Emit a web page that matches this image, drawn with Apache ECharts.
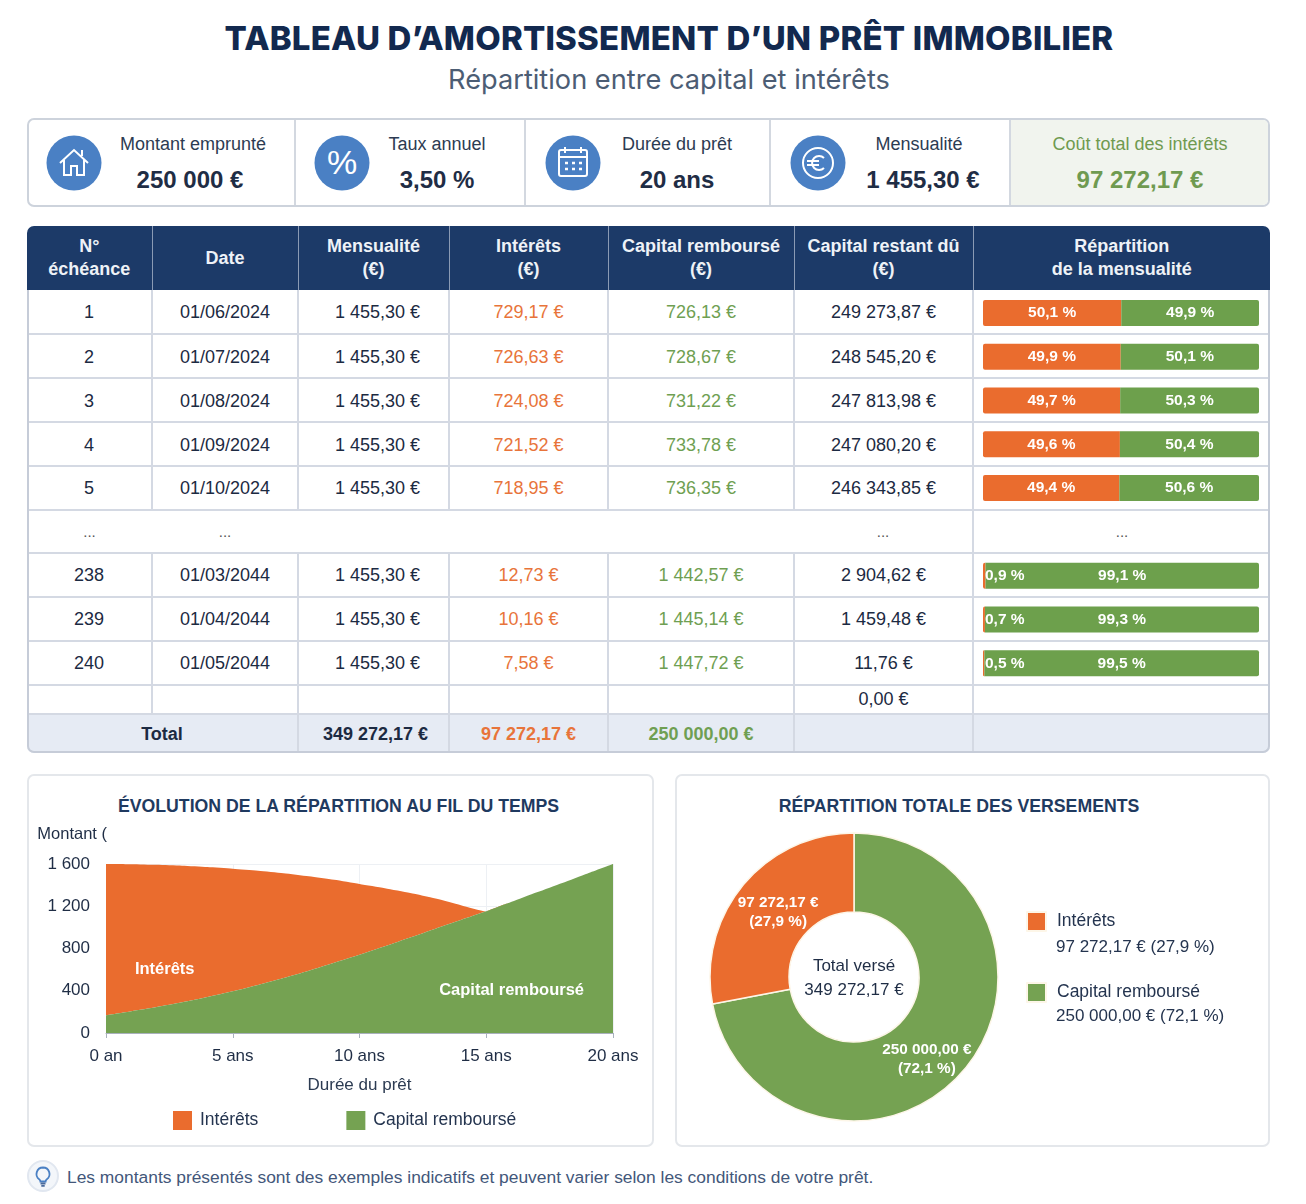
<!DOCTYPE html>
<html lang="fr">
<head>
<meta charset="utf-8">
<title>Tableau d'amortissement</title>
<script src="https://cdn.jsdelivr.net/npm/echarts@6/dist/echarts.min.js"></script>
<style>
html, body { margin: 0; padding: 0; background: #fff; }
body { position: relative; width: 1306px; height: 1204px; overflow: hidden; font-family: "Liberation Sans", Arial, sans-serif; color: #1c2a42; }
.abs { position: absolute; }
#title { left: 0; width: 1338px; top: 15px; text-align: center; font-family: Inter, sans-serif; font-weight: 800; font-size: 33px; line-height: 46px; color: #12294f; letter-spacing: 0.2px; white-space: nowrap; }
#subtitle { left: 0; width: 1338px; top: 61px; text-align: center; font-family: Inter, sans-serif; font-weight: 400; font-size: 27.2px; line-height: 38px; color: #4c5d74; }
#kpis { left: 27px; top: 118px; width: 1239px; height: 85px; border: 2px solid #cdd3dc; border-radius: 7px; overflow: hidden; }
.kpi { position: absolute; top: 0; height: 85px; border-right: 2px solid #d3d8e0; box-sizing: border-box; }
.kpi:last-child { border-right: 0; background: #f1f4ee; }
.kpi .lab { position: absolute; top: 13px; font-size: 18px; line-height: 22px; text-align: center; white-space: nowrap; color: #2c3b52; transform: translateX(-50%); }
.kpi .val { position: absolute; top: 45px; font-size: 24px; line-height: 30px; font-weight: bold; text-align: center; white-space: nowrap; color: #1f2d45; transform: translateX(-50%); }
.kpi:last-child .lab, .kpi:last-child .val { color: #6f9a50; }
.kpi svg { position: absolute; top: 15px; }
#tablewrap { left: 27px; top: 226px; width: 1243px; height: 527px; border-radius: 7px; overflow: hidden; }
#tableborder { left: 27px; top: 290px; width: 1239px; height: 461px; border: 2px solid #c6ccd8; border-top: 0; border-radius: 0 0 7px 7px; }
table { border-collapse: collapse; table-layout: fixed; width: 1243px; }
th { background: #1c3a68; color: #eef2f7; font-size: 18px; line-height: 23px; font-weight: bold; border-right: 1.5px solid #8a9ab4; padding: 0; }
td { font-size: 18px; text-align: center; padding: 0; border-right: 2px solid #d4d9e3; border-bottom: 2px solid #d4d9e3; color: #1c2a42; }
th:last-child, td:last-child { border-right: 0; }
td.int { color: #e8743a; }
td.cap { color: #6f9f52; }
td.men { padding-left: 8px; }
tr.up td { padding-top: 2px; }
tr.gap td { border-right: 0; color: #555; font-size: 15px; }
tr.gap td.keep { border-right: 2px solid #d4d9e3; }
tr.total td { background: #e6ebf4; font-weight: bold; border-bottom: 0; }
.card { box-sizing: border-box; top: 774px; height: 373px; border: 2px solid #e4e7eb; border-radius: 7px; }
.cardtitle { text-align: center; top: 794px; font-size: 17.7px; line-height: 24px; font-weight: bold; color: #1f3a60; }
#foot { left: 67px; top: 1165px; font-size: 17.4px; line-height: 24px; color: #43577a; white-space: nowrap; }
#chart { left: 0; top: 0; width: 1306px; height: 1204px; }
</style>
</head>
<body>
<div class="abs" id="title">TABLEAU D’AMORTISSEMENT D’UN PRÊT IMMOBILIER</div>
<div class="abs" id="subtitle">Répartition entre capital et intérêts</div>
<div class="abs" id="kpis"></div>
<div class="abs" id="tablewrap"><table id="tbl"></table></div>
<div class="abs" id="tableborder"></div>
<div class="abs card" style="left:27px;width:627px"></div>
<div class="abs card" style="left:675px;width:595px"></div>
<div class="abs cardtitle" style="left:27px;width:623px">ÉVOLUTION DE LA RÉPARTITION AU FIL DU TEMPS</div>
<div class="abs cardtitle" style="left:675px;width:568px">RÉPARTITION TOTALE DES VERSEMENTS</div>
<svg class="abs" style="left:27px;top:1160px" width="32" height="32" viewBox="0 0 32 32">
  <circle cx="16" cy="16" r="15" fill="#f3f6fa" stroke="#e1e7f0" stroke-width="2"/>
  <path d="M16 7.5a6.5 6.5 0 0 0-3.6 11.9c.7.5 1 1.2 1 2.1h5.2c0-.9.3-1.6 1-2.1A6.5 6.5 0 0 0 16 7.5z" fill="none" stroke="#4a80c4" stroke-width="1.8"/>
  <path d="M13.5 23.5h5M14.3 25.8h3.4" stroke="#4a6a9c" stroke-width="1.8"/>
</svg>
<div class="abs" id="foot">Les montants présentés sont des exemples indicatifs et peuvent varier selon les conditions de votre prêt.</div>
<div class="abs" id="chart"></div>
<script>
// indicateurs du haut
var kpiLabels = ['Montant emprunté', 'Taux annuel', 'Durée du prêt', 'Mensualité', 'Coût total des intérêts'];
var kpiValues = ['250 000 €', '3,50 %', '20 ans', '1 455,30 €', '97 272,17 €'];

// tableau
var headers = ['N°<br>échéance', 'Date', 'Mensualité<br>(€)', 'Intérêts<br>(€)', 'Capital remboursé<br>(€)', 'Capital restant dû<br>(€)', 'Répartition<br>de la mensualité'];
var echeances = ['1', '2', '3', '4', '5', '...', '238', '239', '240'];
var dates = ['01/06/2024', '01/07/2024', '01/08/2024', '01/09/2024', '01/10/2024', '...', '01/03/2044', '01/04/2044', '01/05/2044'];
var mensualites = ['1 455,30 €', '1 455,30 €', '1 455,30 €', '1 455,30 €', '1 455,30 €', '', '1 455,30 €', '1 455,30 €', '1 455,30 €'];
var interets = ['729,17 €', '726,63 €', '724,08 €', '721,52 €', '718,95 €', '', '12,73 €', '10,16 €', '7,58 €'];
var capitaux = ['726,13 €', '728,67 €', '731,22 €', '733,78 €', '736,35 €', '', '1 442,57 €', '1 445,14 €', '1 447,72 €'];
var restants = ['249 273,87 €', '248 545,20 €', '247 813,98 €', '247 080,20 €', '246 343,85 €', '...', '2 904,62 €', '1 459,48 €', '11,76 €'];
var partInterets = [50.1, 49.9, 49.7, 49.6, 49.4, null, 0.9, 0.7, 0.5];
var partCapital = [49.9, 50.1, 50.3, 50.4, 50.6, null, 99.1, 99.3, 99.5];

// courbes : montant par année
var anneeLabels = ['0 an', '1 an', '2 ans', '3 ans', '4 ans', '5 ans', '6 ans', '7 ans', '8 ans', '9 ans', '10 ans', '11 ans', '12 ans', '13 ans', '14 ans', '15 ans', '16 ans', '17 ans', '18 ans', '19 ans', '20 ans'];
var courbeCapital = [167, 205, 245, 290, 340, 395, 455, 520, 590, 665, 741, 822, 905, 988, 1070, 1152, 1242, 1332, 1421, 1511, 1600];
var courbeInterets = [1433, 1393, 1347, 1294, 1232, 1161, 1082, 993, 894, 785, 669, 548, 420, 285, 140, 0, 0, 0, 0, 0, 0];

// donut
var totalInterets = 97272.17;
var totalCapital = 250000.00;
var legendeMontants = ['97 272,17 € (27,9 %)', '250 000,00 € (72,1 %)'];

var ORANGE = '#ea6c2e';
var VERT = '#75a252';

function pct(v) {
    return v.toFixed(1).replace('.', ',') + ' %';
}

function buildKpis() {
    var lefts = [0, 265, 497, 742, 982];
    var widths = [267, 232, 245, 240, 257];
    var labCenter = [164, 143, 151, 148, 129];
    var valCenter = [161, 143, 151, 152, 129];
    var icons = [
        '<path d="M14 28L28 15l14 13M18 25v15h7v-9h6v9h7V25M36 15v6" fill="none" stroke="#fff" stroke-width="2"/>',
        '<text x="28" y="39" text-anchor="middle" font-family="Liberation Sans" font-size="34" fill="#fff">%</text>',
        '<rect x="14" y="15" width="28" height="26" rx="2" fill="none" stroke="#fff" stroke-width="2"/><path d="M14 22h28M20 12v6M36 12v6" stroke="#fff" stroke-width="2"/><path d="M20 28h3M27 28h3M34 28h3M20 34h3M27 34h3M34 34h3" stroke="#fff" stroke-width="2.5"/>',
        '<circle cx="28" cy="28" r="15" fill="none" stroke="#fff" stroke-width="2"/><path d="M34 23a7 7 0 1 0 0 10M17 26h12M17 30h12" fill="none" stroke="#fff" stroke-width="2"/>'
    ];
    var iconLeft = [17, 20, 19, 19];
    var html = '';
    for (var i = 0; i < kpiLabels.length; i++) {
        html += '<div class="kpi" style="left:' + lefts[i] + 'px;width:' + widths[i] + 'px">';
        if (icons[i]) {
            html += '<svg style="left:' + iconLeft[i] + 'px" width="56" height="56" viewBox="0 0 56 56"><circle cx="28" cy="28" r="27.5" fill="#4a80c4"/>' + icons[i] + '</svg>';
        }
        html += '<div class="lab" style="left:' + labCenter[i] + 'px">' + kpiLabels[i] + '</div>';
        html += '<div class="val" style="left:' + valCenter[i] + 'px">' + kpiValues[i] + '</div></div>';
    }
    document.getElementById('kpis').innerHTML = html;
}

function buildTable() {
    var widths = [125, 146, 151, 159, 186, 179, 297];
    var html = '<colgroup>';
    widths.forEach(function (w) { html += '<col style="width:' + w + 'px">'; });
    html += '</colgroup><tr style="height:64px">';
    headers.forEach(function (h) { html += '<th>' + h + '</th>'; });
    html += '</tr>';
    for (var i = 0; i < echeances.length; i++) {
        if (echeances[i] === '...') {
            html += '<tr class="gap" style="height:43px"><td>...</td><td>...</td><td></td><td></td><td></td><td class="keep">...</td><td>...</td></tr>';
            continue;
        }
        html += '<tr class="' + (i < 4 ? 'up' : '') + '" style="height:44px"><td>' + echeances[i] + '</td><td>' + dates[i] + '</td><td class="men">' + mensualites[i] + '</td>' +
            '<td class="int">' + interets[i] + '</td><td class="cap">' + capitaux[i] + '</td><td>' + restants[i] + '</td><td></td></tr>';
    }
    html += '<tr style="height:29px"><td></td><td></td><td></td><td></td><td></td><td>0,00 €</td><td></td></tr>';
    html += '<tr class="total" style="height:39px"><td colspan="2">Total</td><td class="men" style="padding-left:4px">349 272,17 €</td><td class="int">97 272,17 €</td><td class="cap">250 000,00 €</td><td></td><td></td></tr>';
    document.getElementById('tbl').innerHTML = html;
}

function initChart() {
    var myChart = echarts.init(document.getElementById('chart'), null, { renderer: 'canvas' });
    var option = {
        backgroundColor: 'transparent',
        animation: false,
        textStyle: { fontFamily: '"Liberation Sans", Arial, sans-serif' },
        grid: [
            { left: 983, top: 291, width: 276, height: 394.2 },
            { left: 106, top: 864, width: 507, height: 169 }
        ],
        xAxis: [
            { gridIndex: 0, type: 'value', min: 0, max: 100, show: false },
            {
                gridIndex: 1,
                type: 'category',
                boundaryGap: false,
                data: anneeLabels,
                name: 'Durée du prêt',
                nameLocation: 'middle',
                nameGap: 44,
                nameTextStyle: { fontSize: 17, color: '#2c3b52' },
                axisLine: { lineStyle: { color: '#a9b1bd' } },
                axisTick: { interval: 4, length: 5, lineStyle: { color: '#a9b1bd' } },
                axisLabel: { interval: 4, fontSize: 17, color: '#1f2d45', margin: 15 },
                splitLine: { show: true, interval: 4, lineStyle: { color: '#edf0f4' } }
            }
        ],
        yAxis: [
            { gridIndex: 0, type: 'category', inverse: true, data: echeances, show: false },
            {
                gridIndex: 1,
                type: 'value',
                min: 0,
                max: 1600,
                interval: 400,
                name: 'Montant (',
                nameGap: 21,
                nameTextStyle: { fontSize: 16.5, color: '#1f2d45', align: 'right', padding: [0, -1, 0, 0] },
                axisLine: { show: false },
                axisTick: { show: false },
                axisLabel: {
                    fontSize: 17,
                    color: '#1f2d45',
                    margin: 16,
                    formatter: function (v) { return v >= 1000 ? String(v).replace(/(\d)(\d{3})$/, '$1 $2') : String(v); }
                },
                splitLine: { lineStyle: { color: '#edf0f4' } }
            }
        ],
        legend: [
            {
                left: 173,
                top: 1111,
                padding: 0,
                icon: 'rect',
                itemWidth: 19,
                itemHeight: 19,
                itemGap: 88,
                data: ['Intérêts', 'Capital remboursé'],
                textStyle: { fontSize: 17.5, color: '#24344f', padding: [0, 0, 0, 3] }
            },
            {
                left: 1026,
                top: 911,
                padding: 0,
                orient: 'vertical',
                icon: 'rect',
                itemWidth: 19,
                itemHeight: 19,
                itemGap: 50,
                data: ['Intérêts ', 'Capital remboursé '],
                textStyle: { fontSize: 17.5, color: '#24344f', padding: [0, 0, 0, 6] }
            }
        ],
        series: [
            {
                name: 'part intérêts',
                type: 'bar',
                xAxisIndex: 0,
                yAxisIndex: 0,
                stack: 'part',
                barWidth: 26,
                itemStyle: { color: ORANGE, borderRadius: [2, 0, 0, 2] },
                data: partInterets.map(function (v) {
                    return {
                        value: v,
                        label: {
                            show: v !== null,
                            position: v !== null && v < 5 ? 'insideLeft' : 'inside',
                            distance: 2,
                            formatter: function () { return v === null ? '' : pct(v); },
                            color: '#fff',
                            fontSize: 15.5,
                            fontWeight: 'bold'
                        }
                    };
                })
            },
            {
                name: 'part capital',
                type: 'bar',
                xAxisIndex: 0,
                yAxisIndex: 0,
                stack: 'part',
                barWidth: 26,
                itemStyle: { color: '#6da04c', borderRadius: [0, 2, 2, 0] },
                label: {
                    show: true,
                    position: 'inside',
                    formatter: function (p) { return p.value === null ? '' : pct(p.value); },
                    color: '#fff',
                    fontSize: 15.5,
                    fontWeight: 'bold'
                },
                data: partCapital
            },
            {
                name: 'Capital remboursé',
                type: 'line',
                xAxisIndex: 1,
                yAxisIndex: 1,
                stack: 'montant',
                symbol: 'none',
                smooth: 0.2,
                lineStyle: { width: 0 },
                itemStyle: { color: VERT },
                areaStyle: { color: VERT, opacity: 1 },
                data: courbeCapital,
                z: 3,
                markPoint: {
                    symbol: 'circle',
                    symbolSize: 1,
                    itemStyle: { color: 'transparent' },
                    label: { show: true, color: '#fff', fontSize: 16.5, fontWeight: 'bold', position: 'inside' },
                    data: [{ coord: ['16 ans', 407], value: 'Capital remboursé' }]
                }
            },
            {
                name: 'Intérêts',
                type: 'line',
                xAxisIndex: 1,
                yAxisIndex: 1,
                stack: 'montant',
                symbol: 'none',
                smooth: 0.2,
                lineStyle: { width: 0 },
                itemStyle: { color: ORANGE },
                areaStyle: { color: ORANGE, opacity: 1 },
                data: courbeInterets,
                z: 2,
                markPoint: {
                    symbol: 'circle',
                    symbolSize: 1,
                    itemStyle: { color: 'transparent' },
                    label: { show: true, color: '#fff', fontSize: 16.5, fontWeight: 'bold', position: 'inside', offset: [8, 0] },
                    data: [{ coord: ['2 ans', 606], value: 'Intérêts' }]
                }
            },
            {
                name: 'versements',
                type: 'pie',
                center: [854, 977],
                radius: [65, 144],
                startAngle: 90,
                clockwise: true,
                itemStyle: { borderColor: '#fdf6e8', borderWidth: 1.5 },
                label: {
                    show: true,
                    position: 'inside',
                    color: '#fff',
                    fontSize: 15.3,
                    fontWeight: 'bold',
                    lineHeight: 19,
                    formatter: function (p) { return p.data.texte; }
                },
                labelLine: { show: false },
                data: [
                    { name: 'Capital remboursé ', value: totalCapital, texte: '250 000,00 €\n(72,1 %)', itemStyle: { color: VERT }, label: { offset: [-10, 14] } },
                    { name: 'Intérêts ', value: totalInterets, texte: '97 272,17 €\n(27,9 %)', itemStyle: { color: ORANGE }, label: { offset: [7, 4] } }
                ]
            }
        ],
        graphic: [
            { type: 'text', z: 10, x: 854, y: 966, style: { text: 'Total versé', align: 'center', verticalAlign: 'middle', fontSize: 17, fill: '#1f2d45', fontFamily: 'Liberation Sans' } },
            { type: 'text', z: 10, x: 854, y: 990, style: { text: '349 272,17 €', align: 'center', verticalAlign: 'middle', fontSize: 17, fill: '#1f2d45', fontFamily: 'Liberation Sans' } },
            { type: 'text', z: 10, x: 1056, y: 947, style: { text: legendeMontants[0], verticalAlign: 'middle', fontSize: 17, fill: '#24344f', fontFamily: 'Liberation Sans' } },
            { type: 'text', z: 10, x: 1056, y: 1016, style: { text: legendeMontants[1], verticalAlign: 'middle', fontSize: 17, fill: '#24344f', fontFamily: 'Liberation Sans' } }
        ]
    };
    myChart.setOption(option);
}

buildKpis();
buildTable();
initChart();
</script>
</body>
</html>
